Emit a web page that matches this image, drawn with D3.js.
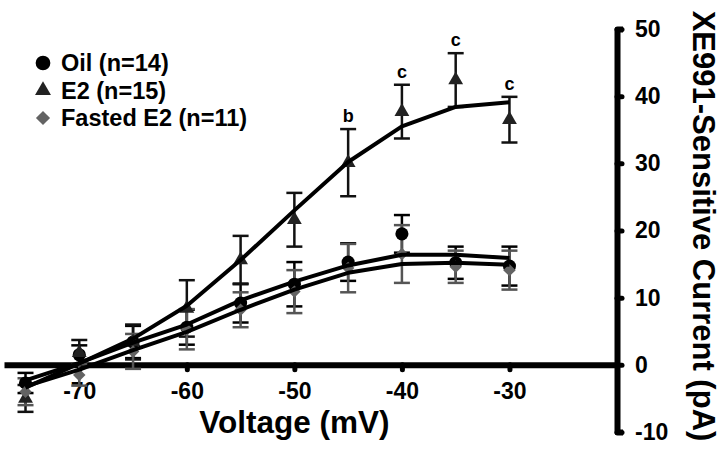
<!DOCTYPE html>
<html>
<head>
<meta charset="utf-8">
<script src="https://cdn.jsdelivr.net/npm/d3@7"></script>
<style>
  html, body { margin: 0; padding: 0; background: #fff; }
  svg { display: block; font-family: "Liberation Sans", Arial, Helvetica, sans-serif; font-weight: bold; }
</style>
</head>
<body>
<svg id="chart" width="720" height="454"></svg>
<script>
// ---- data ----
const voltages = [-75, -70, -65, -60, -55, -50, -45, -40, -35, -30];

const oilMean    = [-2.7, 1.5, 3.4, 5.6, 9.2, 12.0, 15.3, 19.5, 15.2, 14.7];
const oilSE      = [1.5, 1.4, 2.4, 2.6, 2.9, 3.3, 2.8, 2.8, 2.4, 2.9];

const e2Mean     = [-5.0, 1.8, 3.4, 8.4, 15.6, 21.6, 30.1, 37.7, 42.4, 36.5];
const e2SE       = [2.0, 1.9, 2.6, 4.2, 3.6, 4.0, 5.0, 4.0, 4.0, 3.4];

const fastedMean = [-4.0, -1.5, 2.0, 5.3, 8.2, 10.9, 14.4, 16.5, 14.6, 14.1];
const fastedSE   = [2.0, 1.6, 2.6, 3.0, 2.6, 3.2, 3.6, 4.3, 2.4, 2.9];

// fitted curves
const oilFit     = [-2.3, 0.3, 3.3, 6.0, 9.6, 12.4, 14.8, 16.4, 16.4, 15.9];
const e2Fit      = [-3.4, 0.2, 3.9, 8.8, 15.6, 23.0, 30.2, 35.5, 38.4, 39.1];
const fastedFit  = [-3.2, -0.7, 2.2, 4.9, 8.2, 11.2, 13.7, 15.0, 15.2, 14.9];

const sigLetters = ["", "", "", "", "", "", "b", "c", "c", "c"];

const xTicks = [-70, -60, -50, -40, -30];
const yTicks = [-10, 0, 10, 20, 30, 40, 50];

const seriesNames = ["Oil (n=14)", "E2 (n=15)", "Fasted E2 (n=11)"];

// ---- setup ----
const svg = d3.select("#chart");
const x = d3.scaleLinear().domain([-77, -20]).range([4, 617]);
const y = d3.scaleLinear().domain([-10, 50]).range([432, 29]);

const series = [
  { name: seriesNames[0], mean: oilMean, se: oilSE, fit: oilFit, fill: "#000", err: "#000", sym: d3.symbolCircle, size: 135, rot: 0 },
  { name: seriesNames[1], mean: e2Mean, se: e2SE, fit: e2Fit, fill: "#222", err: "#111", sym: d3.symbolTriangle, size: 95, rot: 0 },
  { name: seriesNames[2], mean: fastedMean, se: fastedSE, fit: fastedFit, fill: "#636363", err: "#555", sym: d3.symbolSquare, size: 78, rot: 45 }
];

const fmt = d => String(d);   // plain hyphen-minus like the reference

// ---- axes ----
const xAxis = d3.axisBottom(x).tickValues(xTicks).tickSize(5).tickSizeOuter(0).tickPadding(13)
  .tickFormat(fmt);
const gx = svg.append("g").attr("transform", `translate(0,${y(0)})`).call(xAxis);
gx.select(".domain").attr("stroke", "#000").attr("stroke-width", 6);
gx.selectAll(".tick line").attr("stroke", "#000").attr("stroke-width", 5).attr("stroke-linecap", "round");
gx.selectAll(".tick text").attr("fill", "#000").style("font-size", "23px").style("font-weight", "bold")
  .style("font-family", "'Liberation Sans', Arial, sans-serif");

const yAxis = d3.axisRight(y).tickValues(yTicks).tickSize(5).tickSizeOuter(6).tickPadding(13)
  .tickFormat(fmt);
const gy = svg.append("g").attr("transform", `translate(${x.range()[1]},0)`).call(yAxis);
gy.select(".domain").attr("stroke", "#000").attr("stroke-width", 6).attr("stroke-linejoin", "round");
gy.selectAll(".tick line").attr("stroke", "#000").attr("stroke-width", 5).attr("stroke-linecap", "round");
gy.selectAll(".tick text").attr("fill", "#000").style("font-size", "23px").style("font-weight", "bold")
  .style("font-family", "'Liberation Sans', Arial, sans-serif");

// axis titles
svg.append("text")
  .attr("x", x(-50)).attr("y", 433)
  .attr("text-anchor", "middle")
  .style("font-size", "31.5px")
  .text("Voltage (mV)");

svg.append("text")
  .attr("transform", `translate(704,226) rotate(90)`)
  .attr("text-anchor", "middle")
  .attr("dy", "0.35em")
  .style("font-size", "31px")
  .text("XE991-Sensitive Current (pA)");

// ---- error bars ----
const capW = 8;
series.forEach(s => {
  const g = svg.append("g").attr("stroke", s.err).attr("stroke-width", 2.5).attr("fill", "none");
  voltages.forEach((v, i) => {
    const cx = x(v), top = y(s.mean[i] + s.se[i]), bot = y(s.mean[i] - s.se[i]);
    g.append("line").attr("x1", cx).attr("x2", cx).attr("y1", top).attr("y2", bot);
    g.append("line").attr("x1", cx - capW).attr("x2", cx + capW).attr("y1", top).attr("y2", top);
    g.append("line").attr("x1", cx - capW).attr("x2", cx + capW).attr("y1", bot).attr("y2", bot);
  });
});

// ---- points ----
series.forEach(s => {
  svg.append("g").selectAll("path").data(voltages).join("path")
    .attr("d", d3.symbol().type(s.sym).size(s.size))
    .attr("transform", (v, i) => `translate(${x(v)},${y(s.mean[i])}) rotate(${s.rot})`)
    .attr("fill", s.fill);
});

// ---- fitted lines ----
const line = d3.line().x((v) => x(v)).curve(d3.curveLinear);
series.forEach(s => {
  svg.append("path")
    .datum(voltages)
    .attr("d", line.y((v, i) => y(s.fit[i])))
    .attr("fill", "none")
    .attr("stroke", "#000")
    .attr("stroke-width", 4)
    .attr("stroke-linejoin", "round");
});

// ---- significance letters ----
svg.append("g").selectAll("text").data(voltages).join("text")
  .attr("x", v => x(v))
  .attr("y", (v, i) => y(e2Mean[i] + e2SE[i]) - 7)
  .attr("text-anchor", "middle")
  .style("font-size", "18px")
  .text((v, i) => sigLetters[i]);

// ---- legend ----
const legendSizes = [170, 110, 100];
const lg = svg.append("g");
series.forEach((s, i) => {
  const cy = 63 + i * 27.5;
  lg.append("path")
    .attr("d", d3.symbol().type(s.sym).size(legendSizes[i]))
    .attr("transform", `translate(43,${cy}) rotate(${s.rot})`)
    .attr("fill", s.fill);
  lg.append("text")
    .attr("x", 61).attr("y", cy + 8)
    .style("font-size", "23.5px")
    .text(s.name);
});
</script>
</body>
</html>
